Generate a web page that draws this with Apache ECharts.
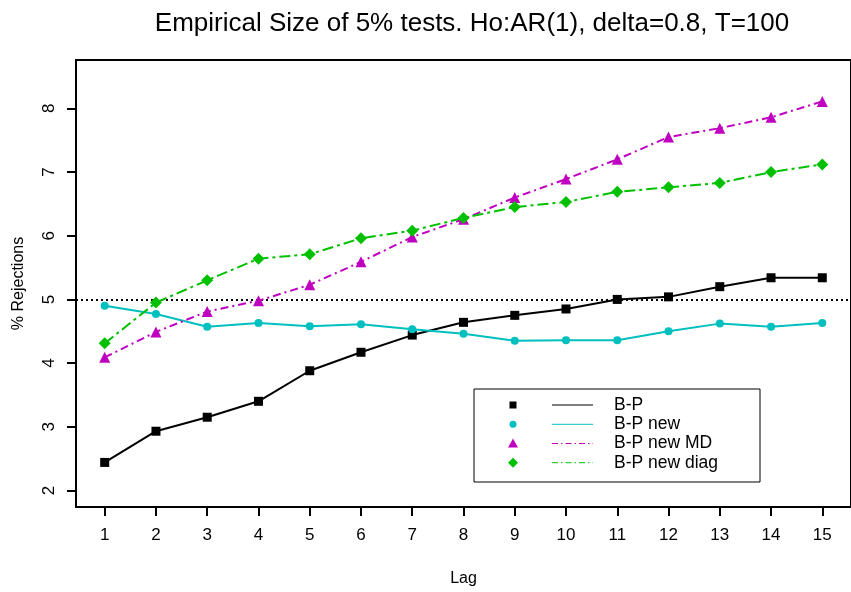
<!DOCTYPE html>
<html>
<head>
<meta charset="utf-8">
<script src="https://cdn.jsdelivr.net/npm/echarts@6/dist/echarts.min.js"></script>
<style>
  html, body { margin: 0; padding: 0; background: #fff; }
  #chart { width: 851px; height: 592px; }
</style>
</head>
<body>
<div id="chart"></div>
<script>
// Lag values on the x axis
const lags = [1, 2, 3, 4, 5, 6, 7, 8, 9, 10, 11, 12, 13, 14, 15];
const yTicks = [2, 3, 4, 5, 6, 7, 8];

// % rejections
const bp       = [2.44, 2.93, 3.15, 3.40, 3.88, 4.17, 4.44, 4.64, 4.75, 4.85, 5.00, 5.04, 5.20, 5.34, 5.34];
const bpNew    = [4.90, 4.77, 4.57, 4.63, 4.58, 4.61, 4.53, 4.46, 4.35, 4.36, 4.36, 4.50, 4.62, 4.57, 4.63];
const bpNewMD  = [4.09, 4.49, 4.81, 4.98, 5.23, 5.59, 5.98, 6.26, 6.60, 6.89, 7.20, 7.55, 7.69, 7.86, 8.11];
const bpNewDiag = [4.31, 4.95, 5.30, 5.64, 5.71, 5.96, 6.08, 6.28, 6.45, 6.53, 6.69, 6.76, 6.83, 7.00, 7.12];

const seriesNames = ['B-P', 'B-P new', 'B-P new MD', 'B-P new diag'];
const nominalSize = 5;

const FONT = '"Liberation Sans", Arial, sans-serif';

// styling per series (kept apart from the data)
const styles = [
    { color: '#000000', symbol: 'rect', size: 9, dash: 'solid' },
    { color: '#00BFBF', symbol: 'circle', size: 8, dash: 'solid' },
    { color: '#C000C0', symbol: 'triangle', size: 11, dash: [8, 4, 2, 4] },
    { color: '#00C000', symbol: 'diamond', size: 12, dash: [11, 4, 3, 4] },
];

const seriesData = [bp, bpNew, bpNewMD, bpNewDiag];

const series = seriesData.map((vals, i) => {
    const s = styles[i];
    return {
        name: seriesNames[i],
        type: 'line',
        data: lags.map((lag, k) => [lag, vals[k]]),
        symbol: s.symbol,
        symbolSize: s.size,
        itemStyle: { color: s.color },
        lineStyle: { color: s.color, width: 2, type: s.dash },
        z: 3 + i,
        animation: false,
    };
});

// horizontal reference line at the nominal 5%
series[0].markLine = {
    silent: true,
    symbol: 'none',
    label: { show: false },
    lineStyle: { color: '#000', type: [2, 3], width: 2 },
    data: [{ yAxis: nominalSize }],
    animation: false,
};

// hand-built legend: marker, line sample, label
const legendBox = { x: 474, y: 389, w: 286, h: 93 };
const legendRows = [405, 424.3, 443.5, 462.7];
const legendGraphics = [{
    type: 'rect',
    shape: { x: legendBox.x, y: legendBox.y, width: legendBox.w, height: legendBox.h },
    style: { fill: '#fff', stroke: '#000', lineWidth: 1 },
    z: 10,
}];
seriesNames.forEach((name, i) => {
    const s = styles[i];
    const y = legendRows[i];
    let marker;
    if (s.symbol === 'rect') {
        marker = { type: 'rect', shape: { x: 513 - 3.5, y: y - 3.5, width: 7, height: 7 } };
    } else if (s.symbol === 'circle') {
        marker = { type: 'circle', shape: { cx: 513, cy: y, r: 3.5 } };
    } else if (s.symbol === 'triangle') {
        marker = { type: 'polygon', shape: { points: [[513, y - 5], [518, y + 4], [508, y + 4]] } };
    } else {
        marker = { type: 'polygon', shape: { points: [[513, y - 5], [518, y], [513, y + 5], [508, y]] } };
    }
    marker.style = { fill: s.color };
    marker.z = 11;
    legendGraphics.push(marker);
    legendGraphics.push({
        type: 'line',
        shape: { x1: 552, y1: y, x2: 593, y2: y },
        style: { stroke: s.color, lineWidth: 1, lineDash: s.dash === 'solid' ? null : [6, 3, 1.5, 3] },
        z: 11,
    });
    legendGraphics.push({
        type: 'text',
        x: 614, y: y,
        style: { text: name, fill: '#000', font: '17.5px ' + FONT, textVerticalAlign: 'middle' },
        z: 11,
    });
});

const chart = echarts.init(document.getElementById('chart'), null, { renderer: 'canvas' });

chart.setOption({
    backgroundColor: '#fff',
    animation: false,
    title: {
        text: 'Empirical Size of 5% tests. Ho:AR(1), delta=0.8, T=100',
        left: 467,
        top: 6,
        textAlign: 'center',
        textStyle: { fontFamily: FONT, fontSize: 26, fontWeight: 'normal', color: '#000' },
    },
    grid: {
        left: 76, top: 60, width: 782, height: 452,
        show: true, borderColor: '#000', borderWidth: 2, backgroundColor: 'transparent',
        containLabel: false,
    },
    xAxis: {
        type: 'value',
        min: 0.44, max: 15.56,
        name: 'Lag',
        nameLocation: 'middle',
        nameGap: 64,
        nameTextStyle: { fontFamily: FONT, fontSize: 16, color: '#000' },
        axisLine: { show: false },
        axisTick: { show: true, customValues: lags, length: 9, inside: false, lineStyle: { color: '#000', width: 2 } },
        axisLabel: { customValues: lags, margin: 20, fontFamily: FONT, fontSize: 17, color: '#000' },
        splitLine: { show: false },
    },
    yAxis: {
        type: 'value',
        min: 1.74, max: 8.76,
        name: '% Rejections',
        nameLocation: 'middle',
        nameGap: 49,
        nameRotate: 90,
        nameTextStyle: { fontFamily: FONT, fontSize: 16, color: '#000' },
        axisLine: { show: false },
        axisTick: { show: true, customValues: yTicks, length: 9, lineStyle: { color: '#000', width: 2 } },
        axisLabel: { customValues: yTicks, rotate: 90, margin: 18, fontFamily: FONT, fontSize: 17, color: '#000' },
        splitLine: { show: false },
    },
    legend: { show: false },
    series: series,
    graphic: legendGraphics,
});
</script>
</body>
</html>
